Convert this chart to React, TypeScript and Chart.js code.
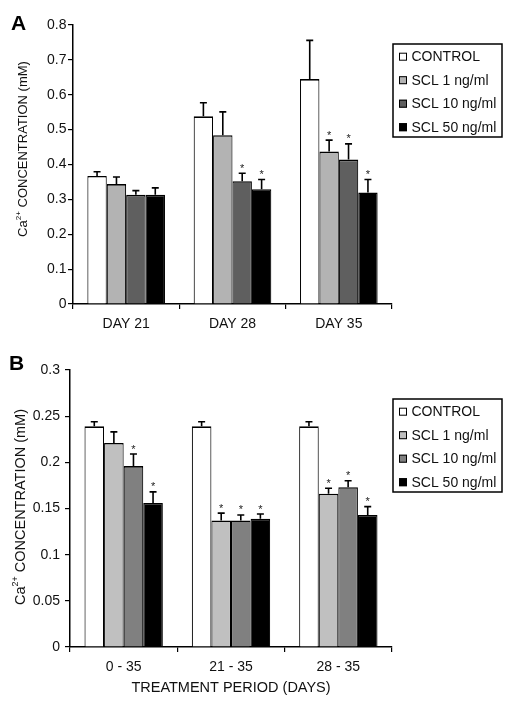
import React, { useEffect, useRef } from "react";
import { Chart, registerables } from "chart.js";

Chart.register(...registerables);

const seriesLabels = ["CONTROL", "SCL 1 ng/ml", "SCL 10 ng/ml", "SCL 50 ng/ml"];

// Panel A
const categoriesA = ["DAY 21", "DAY 28", "DAY 35"];
const controlA = [0.367, 0.538, 0.645];
const controlAErr = [0.012, 0.039, 0.111];
const scl1A = [0.344, 0.484, 0.437];
const scl1AErr = [0.02, 0.067, 0.033];
const scl10A = [0.313, 0.352, 0.414];
const scl10AErr = [0.012, 0.023, 0.045];
const scl50A = [0.313, 0.329, 0.32];
const scl50AErr = [0.02, 0.028, 0.037];
const sigA = [
  [false, false, false],
  [false, false, true],
  [false, true, true],
  [false, true, true],
];
const ticksA = [0, 0.1, 0.2, 0.3, 0.4, 0.5, 0.6, 0.7, 0.8];

// Panel B
const categoriesB = ["0 - 35", "21 - 35", "28 - 35"];
const controlB = [0.239, 0.239, 0.239];
const controlBErr = [0.005, 0.005, 0.005];
const scl1B = [0.221, 0.137, 0.166];
const scl1BErr = [0.012, 0.008, 0.006];
const scl10B = [0.196, 0.137, 0.173];
const scl10BErr = [0.013, 0.006, 0.007];
const scl50B = [0.156, 0.139, 0.143];
const scl50BErr = [0.012, 0.005, 0.009];
const sigB = [
  [false, false, false],
  [false, true, true],
  [true, true, true],
  [true, true, true],
];
const ticksB = [0, 0.05, 0.1, 0.15, 0.2, 0.25, 0.3];

const FONT = "'Liberation Sans', Arial, sans-serif";

type PanelCfg = {
  letter: string;
  categories: string[];
  values: number[][];
  errors: number[][];
  sig: boolean[][];
  colors: string[];
  ticks: number[];
  max: number;
  height: number;
  top: number;
  left: number;
  bottom: number;
  tickPadY: number;
  yTitle: { x: number; y: number; size: number };
  letterPos: { x: number; y: number };
  legendTop: number;
  xTitle?: { text: string; x: number; y: number; size: number };
};

function drawYTitle(ctx: CanvasRenderingContext2D, x: number, y: number, size: number) {
  const main = `${size}px ${FONT}`;
  const sup = `${size * 0.62}px ${FONT}`;
  ctx.save();
  ctx.translate(x, y);
  ctx.rotate(-Math.PI / 2);
  ctx.fillStyle = "#111";
  ctx.textBaseline = "middle";
  ctx.font = main;
  const p1 = "Ca";
  const p3 = " CONCENTRATION (mM)";
  const w1 = ctx.measureText(p1).width;
  const w3 = ctx.measureText(p3).width;
  ctx.font = sup;
  const p2 = "2+";
  const w2 = ctx.measureText(p2).width;
  const total = w1 + w2 + w3;
  let cx = -total / 2;
  ctx.textAlign = "left";
  ctx.font = main;
  ctx.fillText(p1, cx, size * 0.1);
  cx += w1;
  ctx.font = sup;
  ctx.fillText(p2, cx, -size * 0.28);
  cx += w2;
  ctx.font = main;
  ctx.fillText(p3, cx, size * 0.1);
  ctx.restore();
}

function makeChart(canvas: HTMLCanvasElement, cfg: PanelCfg) {
  const overlay = {
    id: "overlay" + cfg.letter,
    afterDatasetsDraw(chart: any) {
      const ctx: CanvasRenderingContext2D = chart.ctx;
      const y = chart.scales.y;
      ctx.save();
      chart.data.datasets.forEach((ds: any, i: number) => {
        const meta = chart.getDatasetMeta(i);
        meta.data.forEach((bar: any, j: number) => {
          const top = bar.y;
          const errY = y.getPixelForValue(ds.data[j] + cfg.errors[i][j]);
          ctx.strokeStyle = "#000";
          ctx.lineWidth = 1.6;
          ctx.beginPath();
          ctx.moveTo(bar.x, top);
          ctx.lineTo(bar.x, errY);
          ctx.moveTo(bar.x - 3.5, errY);
          ctx.lineTo(bar.x + 3.5, errY);
          ctx.stroke();
          if (cfg.sig[i][j]) {
            ctx.fillStyle = "#222";
            ctx.font = `11px ${FONT}`;
            ctx.textAlign = "center";
            ctx.textBaseline = "alphabetic";
            ctx.fillText("*", bar.x, errY - 1.5);
          }
        });
      });
      ctx.restore();
    },
    afterDraw(chart: any) {
      const ctx: CanvasRenderingContext2D = chart.ctx;
      ctx.save();
      // panel letter
      ctx.fillStyle = "#000";
      ctx.font = `bold 21px ${FONT}`;
      ctx.textAlign = "left";
      ctx.textBaseline = "alphabetic";
      ctx.fillText(cfg.letter, cfg.letterPos.x, cfg.letterPos.y);
      // y title
      drawYTitle(ctx, cfg.yTitle.x, cfg.yTitle.y, cfg.yTitle.size);
      // x title
      if (cfg.xTitle) {
        ctx.fillStyle = "#111";
        ctx.font = `${cfg.xTitle.size}px ${FONT}`;
        ctx.textAlign = "center";
        ctx.textBaseline = "middle";
        ctx.fillText(cfg.xTitle.text, cfg.xTitle.x, cfg.xTitle.y);
      }
      // legend
      const bx = 393;
      const by = cfg.legendTop;
      const bw = 109;
      const bh = 93;
      ctx.fillStyle = "#fff";
      ctx.fillRect(bx, by, bw, bh);
      ctx.strokeStyle = "#000";
      ctx.lineWidth = 1.5;
      ctx.strokeRect(bx, by, bw, bh);
      chart.data.datasets.forEach((ds: any, i: number) => {
        const cy = by + 12.7 + 23.5 * i;
        ctx.fillStyle = ds.backgroundColor;
        ctx.fillRect(399, cy - 4, 8, 8);
        ctx.strokeStyle = "#000";
        ctx.lineWidth = 1;
        ctx.strokeRect(399.5, cy - 3.5, 7, 7);
        ctx.fillStyle = "#111";
        ctx.font = `14px ${FONT}`;
        ctx.textAlign = "left";
        ctx.textBaseline = "middle";
        ctx.fillText(ds.label, 411.5, cy + 0.5);
      });
      ctx.restore();
    },
  };

  return new Chart(canvas, {
    type: "bar",
    data: {
      labels: cfg.categories,
      datasets: cfg.values.map((vals, i) => ({
        label: seriesLabels[i],
        data: vals,
        backgroundColor: cfg.colors[i],
        borderColor: "#000",
        borderWidth: { top: 1.6, left: 1.1, right: 1.1, bottom: 0 },
        borderSkipped: false,
        categoryPercentage: 0.73,
        barPercentage: 1,
      })),
    },
    options: {
      responsive: false,
      animation: false,
      devicePixelRatio: 1,
      layout: { padding: { left: 0, right: 120, top: cfg.top, bottom: 0 } },
      plugins: { legend: { display: false }, tooltip: { enabled: false } },
      scales: {
        x: {
          grid: { display: true, drawOnChartArea: false, tickLength: 5, color: "#000", lineWidth: 1.2 },
          border: { display: true, color: "#000", width: 1.5 },
          ticks: { color: "#111", font: { family: FONT, size: 14 }, padding: 7, maxRotation: 0 },
          afterFit: (s: any) => {
            s.height = cfg.height - cfg.bottom;
          },
        },
        y: {
          min: 0,
          max: cfg.max,
          afterBuildTicks: (s: any) => {
            s.ticks = cfg.ticks.map((v) => ({ value: v }));
          },
          grid: { display: true, drawOnChartArea: false, tickLength: 5, color: "#000", lineWidth: 1.2 },
          border: { display: true, color: "#000", width: 1.5 },
          ticks: {
            color: "#111",
            font: { family: FONT, size: 14 },
            padding: cfg.tickPadY,
            callback: (v: any) => String(Number(Number(v).toFixed(2))),
          },
          afterFit: (s: any) => {
            s.width = cfg.left;
          },
        },
      },
    },
    plugins: [overlay],
  } as any);
}

const panelA: PanelCfg = {
  letter: "A",
  categories: categoriesA,
  values: [controlA, scl1A, scl10A, scl50A],
  errors: [controlAErr, scl1AErr, scl10AErr, scl50AErr],
  sig: sigA,
  colors: ["#ffffff", "#b3b3b3", "#5f5f5f", "#000000"],
  ticks: ticksA,
  max: 0.8,
  height: 352,
  top: 25,
  left: 73,
  bottom: 304,
  tickPadY: 1.5,
  yTitle: { x: 22, y: 149, size: 13 },
  letterPos: { x: 11, y: 30 },
  legendTop: 44,
};

const panelB: PanelCfg = {
  letter: "B",
  categories: categoriesB,
  values: [controlB, scl1B, scl10B, scl50B],
  errors: [controlBErr, scl1BErr, scl10BErr, scl50BErr],
  sig: sigB,
  colors: ["#ffffff", "#c0c0c0", "#808080", "#000000"],
  ticks: ticksB,
  max: 0.3,
  height: 353,
  top: 18,
  left: 70,
  bottom: 295,
  tickPadY: 5,
  yTitle: { x: 20, y: 155, size: 14.5 },
  letterPos: { x: 9, y: 18 },
  legendTop: 47,
  xTitle: { text: "TREATMENT PERIOD (DAYS)", x: 231, y: 336, size: 14.5 },
};

function Panel({ cfg }: { cfg: PanelCfg }) {
  const ref = useRef<HTMLCanvasElement | null>(null);
  useEffect(() => {
    if (!ref.current) return;
    const chart = makeChart(ref.current, cfg);
    return () => chart.destroy();
  }, [cfg]);
  return (
    <canvas
      ref={ref}
      width={512}
      height={cfg.height}
      style={{ display: "block", width: 512, height: cfg.height }}
    />
  );
}

export default function App() {
  return (
    <div style={{ position: "absolute", left: 0, top: 0, width: 512, height: 705, background: "#fff" }}>
      <Panel cfg={panelA} />
      <Panel cfg={panelB} />
    </div>
  );
}
